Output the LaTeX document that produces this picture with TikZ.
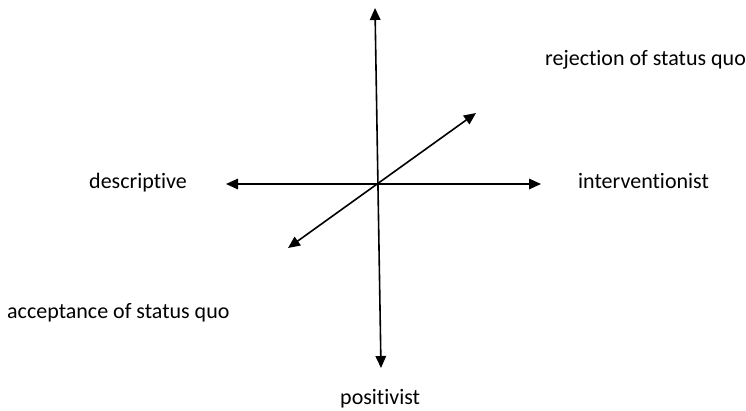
\documentclass[tikz,border=0pt]{standalone}
\usepackage{fontspec}
\setmainfont{Carlito}[Ligatures={NoCommon}]
\usetikzlibrary{arrows.meta}
\begin{document}
\begin{tikzpicture}[x=1pt,y=-1pt,
  axis/.style={line width=1.6pt,{Triangle[length=12pt,width=10.5pt]}-{Triangle[length=12pt,width=10.5pt]}},
  lbl/.style={inner sep=0pt,anchor=base west,font=\fontsize{22}{26}\selectfont}]
\useasboundingbox (0,0) rectangle (746,410);
\coordinate (top) at (375,8);
\coordinate (bot) at (381,368);
\coordinate (lft) at (226,184);
\coordinate (rgt) at (541,184);
\coordinate (dlo) at (288,248);
\coordinate (dhi) at (476,113);
\draw[axis] (top) -- (bot);
\draw[axis] (lft) -- (rgt);
\draw[axis] (dlo) -- (dhi);
\node[lbl] (rej) at (545,65) {rejection of status quo};
\node[lbl] (des) at (89,188) {descriptive};
\node[lbl] (int) at (578,188) {interventionist};
\node[lbl] (acc) at (7,318) {acceptance of status quo};
\node[lbl] (pos) at (340,404) {positivist};
\end{tikzpicture}
\end{document}
